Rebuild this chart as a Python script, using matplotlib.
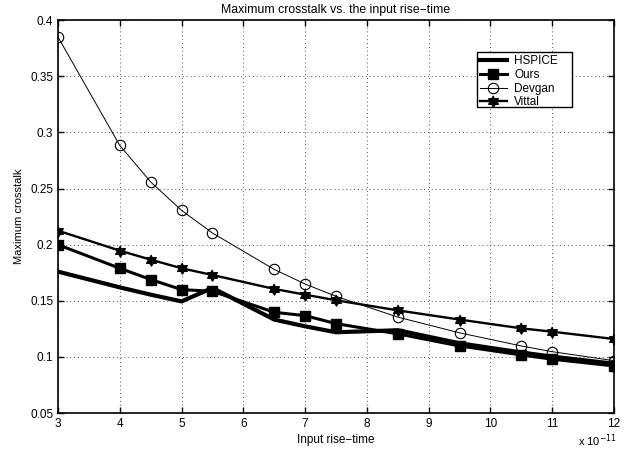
import matplotlib
matplotlib.use("Agg")
import matplotlib.pyplot as plt
from matplotlib.patches import Rectangle
import numpy as np

x = [3, 4, 4.5, 5, 5.5, 6.5, 7, 7.5, 8.5, 9.5, 10.5, 11, 12]
hspice = [0.176, 0.162, 0.1555, 0.1495, 0.1615, 0.1333, 0.1273, 0.122, 0.1238, 0.1122, 0.104, 0.1003, 0.094]
ours = [0.200, 0.179, 0.169, 0.160, 0.1585, 0.1398, 0.1368, 0.1297, 0.1206, 0.1098, 0.1018, 0.098, 0.092]
devgan = [0.385, 0.2884, 0.2559, 0.2306, 0.2104, 0.178, 0.165, 0.154, 0.1355, 0.1215, 0.1098, 0.1047, 0.0967]
vittal = [0.2125, 0.1947, 0.1867, 0.179, 0.173, 0.1606, 0.1555, 0.1505, 0.1415, 0.1333, 0.1255, 0.1225, 0.116]
xticks = [3, 4, 5, 6, 7, 8, 9, 10, 11, 12]
yticks = [0.05, 0.1, 0.15, 0.2, 0.25, 0.3, 0.35, 0.4]
ytick_labels = ["0.05", "0.1", "0.15", "0.2", "0.25", "0.3", "0.35", "0.4"]

plt.rcParams['font.family'] = ['Liberation Sans', 'DejaVu Sans']

# six-pointed star marker
ang = np.arange(12) * np.pi / 6 + np.pi / 2
rad = np.where(np.arange(12) % 2 == 0, 1.0, 0.58)
hexagram = list(zip(rad * np.cos(ang), rad * np.sin(ang)))

fig = plt.figure(figsize=(6.39, 4.49), dpi=100)
ax = fig.add_axes([0.0908, 0.080, 0.870, 0.875])

ax.plot(x, hspice, color='black', lw=3.0, label='HSPICE')
ax.plot(x, ours, color='black', lw=2.2, marker='s', ms=7, label='Ours')
ax.plot(x, devgan, color='black', lw=0.7, marker='o', ms=7.5, mfc='none', mew=0.8, label='Devgan')
ax.plot(x, vittal, color='black', lw=1.7, marker=hexagram, ms=8, label='Vittal')

ax.set_xlim(3, 12)
ax.set_ylim(0.05, 0.4)
ax.set_xticks(xticks)
ax.set_yticks(yticks)
ax.set_yticklabels(ytick_labels)
ax.grid(True, linestyle=(0, (1, 3)), color='#555555', lw=0.7)
ax.tick_params(direction='in', top=True, right=True, labelsize=8.5, length=4, width=1)
for s in ax.spines.values():
    s.set_linewidth(1.2)

ax.set_title('Maximum crosstalk vs. the input rise\u2212time', fontsize=8.8, pad=5)
ax.set_xlabel('Input rise\u2212time', fontsize=8.5, labelpad=3)
ax.set_ylabel('Maximum crosstalk', fontsize=8, labelpad=4)
ax.text(0.971, -0.084, 'x 10$^{-11}$', transform=ax.transAxes, ha='center', va='baseline', fontsize=8)

# legend box (MATLAB style)
ax.add_patch(Rectangle((0.7536, 0.7786), 0.1709, 0.14, transform=ax.transAxes,
                       facecolor='white', edgecolor='black', lw=1.0, zorder=4))
leg = ax.legend(loc='upper left', bbox_to_anchor=(0.7536, 0.9186), fontsize=8.5,
                frameon=False, borderpad=0.25, labelspacing=0.15, handlelength=2.3,
                handletextpad=0.6, borderaxespad=0)
leg.set_zorder(5)

fig.savefig('out.png', dpi=100)
